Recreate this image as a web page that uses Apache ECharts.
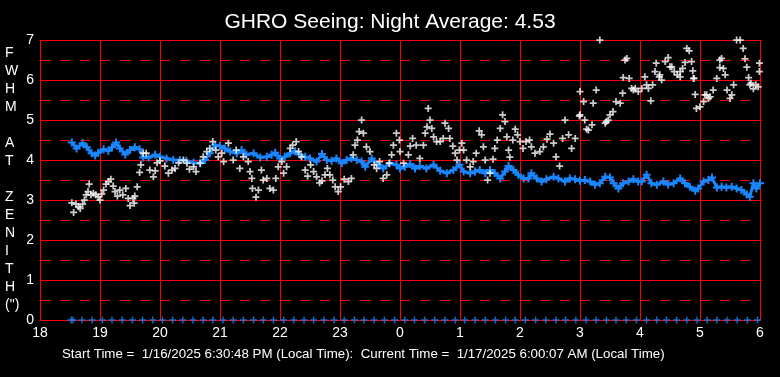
<!DOCTYPE html>
<html>
<head>
<meta charset="utf-8">
<script src="https://cdn.jsdelivr.net/npm/echarts@6/dist/echarts.min.js"></script>
<style>html,body{margin:0;padding:0;background:#000;}#c{width:780px;height:377px;}</style>
</head>
<body>
<div id="c"></div>
<script>
// ---- data (hours since midnight of start day; 24+ = next morning) ----
var titleText = 'GHRO Seeing: Night Average: 4.53';
var footerText = 'Start Time =  1/16/2025 6:30:48 PM (Local Time):  Current Time =  1/17/2025 6:00:07 AM (Local Time)';
var yAxisTitle = ['F','W','H','M','','A','T','','Z','E','N','I','T','H','(")'];
var xTickHours = [18,19,20,21,22,23,24,25,26,27,28,29,30];

// blue series (time, value)
var blueT = [18.53,18.61,18.71,18.78,18.86,18.92,18.97,19.06,19.14,19.20,19.27,19.33,19.42,19.50,19.58,19.66,19.72,19.81,19.92,20.00,20.11,20.22,20.33,20.44,20.56,20.67,20.75,20.83,20.92,21.00,21.08,21.17,21.28,21.36,21.44,21.56,21.67,21.78,21.86,21.92,22.00,22.08,22.17,22.25,22.33,22.42,22.50,22.61,22.70,22.78,22.86,22.94,23.03,23.11,23.19,23.28,23.36,23.42,23.53,23.64,23.72,23.83,23.94,24.00,24.08,24.17,24.25,24.33,24.44,24.56,24.67,24.78,24.89,24.99,25.06,25.17,25.25,25.33,25.42,25.50,25.58,25.67,25.75,25.81,25.89,25.97,26.06,26.14,26.19,26.28,26.36,26.44,26.56,26.64,26.75,26.83,26.92,27.00,27.08,27.17,27.25,27.33,27.42,27.50,27.56,27.64,27.72,27.81,27.89,27.97,28.03,28.11,28.19,28.28,28.39,28.47,28.56,28.67,28.75,28.83,28.92,28.97,29.06,29.14,29.20,29.28,29.36,29.44,29.53,29.61,29.69,29.78,29.83,29.89,29.94,30.00];
var blueV = [4.44,4.29,4.42,4.32,4.17,4.11,4.18,4.27,4.23,4.32,4.44,4.29,4.14,4.25,4.32,4.27,4.06,4.06,4.13,4.08,4.04,4.00,4.00,3.98,3.93,3.92,4.00,4.17,4.37,4.35,4.29,4.21,4.17,4.25,4.13,4.17,4.06,4.08,4.13,4.18,4.04,4.08,4.17,4.22,4.13,4.08,4.04,3.96,4.15,4.00,3.98,4.04,3.92,4.00,4.04,4.00,3.96,3.83,4.04,3.88,3.79,3.92,3.88,3.79,3.83,3.90,3.79,3.85,3.79,3.88,3.73,3.67,3.75,3.88,3.71,3.67,3.71,3.75,3.67,3.75,3.67,3.54,3.71,3.85,3.75,3.63,3.54,3.54,3.67,3.54,3.46,3.52,3.58,3.54,3.46,3.54,3.52,3.48,3.50,3.46,3.38,3.42,3.58,3.56,3.42,3.29,3.42,3.46,3.52,3.46,3.46,3.63,3.42,3.38,3.46,3.39,3.42,3.54,3.42,3.33,3.23,3.29,3.46,3.50,3.56,3.31,3.33,3.31,3.33,3.29,3.25,3.14,3.08,3.42,3.29,3.42];

// white series (time, value)
var whiteT = [18.53,18.56,18.60,18.64,18.67,18.71,18.74,18.77,18.80,18.82,18.85,18.89,18.93,18.97,19.00,19.03,19.06,19.10,19.14,19.18,19.22,19.25,19.29,19.33,19.38,19.43,19.47,19.50,19.55,19.57,19.58,19.62,19.66,19.68,19.72,19.77,19.83,19.89,19.92,19.95,20.00,20.08,20.14,20.20,20.25,20.31,20.39,20.45,20.49,20.56,20.60,20.67,20.72,20.78,20.83,20.88,20.93,20.97,
21.03,21.06,21.14,21.22,21.27,21.33,21.39,21.47,21.50,21.53,21.54,21.60,21.64,21.69,21.72,21.78,21.83,21.89,21.93,21.97,22.03,22.06,22.11,22.17,22.21,22.27,22.31,22.36,22.42,22.46,22.51,22.56,22.61,22.66,22.70,22.75,22.79,22.83,22.88,22.92,22.97,23.01,23.07,23.14,23.19,23.22,23.25,23.29,23.32,23.36,23.39,23.44,23.50,23.57,23.61,23.66,23.72,23.78,23.82,23.86,23.89,23.94,23.99,
24.00,24.06,24.14,24.17,24.21,24.27,24.33,24.39,24.42,24.45,24.47,24.50,24.53,24.56,24.61,24.67,24.72,24.75,24.81,24.83,24.88,24.92,24.95,24.99,25.03,25.06,25.11,25.17,25.22,25.27,25.32,25.36,25.39,25.42,25.46,25.50,25.55,25.58,25.62,25.67,25.71,25.75,25.78,25.81,25.83,25.88,25.92,25.96,26.00,26.05,26.10,26.16,26.19,26.25,26.33,26.39,26.45,26.50,26.56,26.60,26.66,26.71,26.75,26.81,26.86,26.92,26.99,
27.00,27.06,27.00,27.08,27.14,27.20,27.22,27.27,27.33,27.42,27.47,27.55,27.60,27.67,27.71,27.72,27.75,27.78,27.82,27.86,27.92,27.97,28.03,28.08,28.14,28.18,28.21,28.25,28.27,28.32,28.36,28.42,28.47,28.53,28.57,28.62,28.67,28.71,28.75,28.78,28.82,28.88,28.90,28.92,28.94,29.00,29.06,29.11,29.17,29.22,29.28,29.33,29.36,29.42,29.45,29.50,29.56,29.61,29.67,29.72,29.75,29.78,29.81,29.85,29.89,29.93,29.99,29.99,
27.11,27.44,27.50,27.89,28.11,28.33,28.50,28.67,28.86,28.89,29.08,29.14,29.33,29.39,29.53,29.83,29.97];
var whiteV = [2.93,2.69,2.90,2.83,2.79,2.90,3.00,3.13,3.21,3.40,3.13,3.17,3.13,3.08,3.00,3.15,3.25,3.40,3.46,3.52,3.35,3.21,3.10,3.25,3.13,3.29,3.04,2.86,3.04,2.92,3.10,3.33,3.69,3.88,4.17,4.17,3.75,3.58,3.73,3.93,3.98,3.85,3.67,3.75,3.79,3.93,4.00,3.92,3.77,3.83,3.71,3.92,4.08,4.21,4.29,4.46,4.25,4.08,
4.17,3.96,4.42,4.00,4.25,3.79,4.08,3.96,3.71,3.54,3.29,3.07,3.25,3.75,3.50,3.54,3.29,3.25,3.54,3.83,3.96,3.67,3.83,4.29,4.37,4.46,4.21,4.08,3.75,3.60,3.88,3.71,3.58,3.43,3.48,3.63,3.79,3.63,3.50,3.33,3.21,3.33,3.52,3.46,3.54,4.13,4.37,4.50,4.71,5.00,4.67,4.33,4.21,3.88,3.79,3.96,3.54,3.63,3.92,4.13,4.37,4.67,4.50,
4.21,3.92,4.13,4.35,4.54,4.37,4.04,4.37,4.67,4.83,5.29,5.00,4.79,4.58,4.46,4.46,4.54,4.92,4.79,4.54,4.35,4.17,4.00,4.25,4.42,4.25,4.00,3.83,3.96,4.17,4.73,4.63,4.33,4.00,3.50,3.67,4.02,4.29,4.50,4.79,5.13,4.96,4.58,4.25,4.07,4.50,4.77,4.63,4.46,4.29,4.46,4.50,4.33,4.17,4.21,4.33,4.52,4.65,4.42,4.08,3.85,4.54,5.00,4.63,4.29,4.54,5.10,
5.71,5.46,5.13,5.00,4.75,4.88,5.42,5.75,7.00,4.92,5.00,5.21,5.46,5.42,5.67,6.06,6.50,6.54,6.04,5.79,5.79,5.71,5.79,6.08,5.79,5.48,5.88,6.21,6.42,6.08,6.00,6.46,6.56,6.33,6.21,6.13,6.21,6.29,6.44,6.79,6.73,6.23,6.04,5.64,5.29,5.33,5.46,5.63,5.58,5.75,6.04,6.31,6.54,6.13,5.75,5.54,5.88,7.00,7.00,6.79,6.53,6.32,6.06,5.92,5.78,5.88,6.21,6.42,
4.77,4.96,5.13,5.75,5.88,6.13,6.33,6.08,6.46,6.04,5.63,5.54,6.50,6.29,5.63,5.88,5.83];

// baseline markers at zero
var zeroT = [18.52,18.55,18.70,18.87,19.04,19.20,19.37,19.54,19.71,19.88,20.04,20.21,20.38,20.55,20.72,20.88,21.05,21.22,21.39,21.56,21.72,21.89,22.06,22.23,22.40,22.56,22.73,22.90,23.07,23.24,23.40,23.57,23.74,23.91,24.08,24.24,24.41,24.58,24.75,24.92,25.08,25.25,25.42,25.59,25.76,25.92,26.09,26.26,26.43,26.60,26.76,26.93,27.10,27.27,27.44,27.60,27.77,27.94,28.11,28.28,28.44,28.61,28.78,28.95,29.12,29.28,29.45,29.62,29.79,29.96];
var zeroV = [0,0,0,0,0,0,0,0,0,0,0,0,0,0,0,0,0,0,0,0,0,0,0,0,0,0,0,0,0,0,0,0,0,0,0,0,0,0,0,0,0,0,0,0,0,0,0,0,0,0,0,0,0,0,0,0,0,0,0,0,0,0,0,0,0,0,0,0,0,0];

function pairs(t, v) { return t.map(function (x, i) { return [x, v[i]]; }); }

var RED = '#ff0000';
var BLUE = '#1a86ff';
var PLUS_MED = 'path://M3,0H4.5V3H7.5V4.5H4.5V7.5H3V4.5H0V3H3Z';
var PLUS_BOLD = 'path://M3,0H5V3H8V5H5V8H3V5H0V3H3Z';
var FONT = 'Arial, "Liberation Sans", sans-serif';

var chart = echarts.init(document.getElementById('c'), null, {renderer: 'canvas'});
chart.setOption({
  backgroundColor: '#000',
  animation: false,
  title: {
    text: titleText, left: 'center', top: 7,
    textStyle: {color: '#fff', fontSize: 21, fontWeight: 'normal', fontFamily: FONT}
  },
  grid: {left: 40, right: 20, top: 40, bottom: 57},
  xAxis: {
    type: 'value', min: 18, max: 30, interval: 1,
    axisLine: {show: false}, axisTick: {show: false},
    axisLabel: {color: '#fff', fontSize: 14, fontFamily: FONT, margin: 6,
      formatter: function (v) { return String(v % 24); }},
    splitLine: {show: true, lineStyle: {color: RED, width: 1}}
  },
  yAxis: {
    type: 'value', min: 0, max: 7, interval: 1,
    axisLine: {show: false}, axisTick: {show: false},
    axisLabel: {color: '#fff', fontSize: 14, fontFamily: FONT, margin: 6},
    splitLine: {show: true, lineStyle: {color: RED, width: 1}},
    minorTick: {show: false, splitNumber: 2},
    minorSplitLine: {show: true, lineStyle: {color: RED, width: 1, type: [10, 10]}}
  },
  graphic: [
    {type: 'text', left: 5, top: 44, style: {
      text: yAxisTitle.join('\n'), fill: '#fff', font: '14px ' + FONT,
      lineHeight: 18, align: 'center', width: 12}},
    {type: 'text', left: 62, top: 348, style: {
      text: footerText, fill: '#fff', font: '13.3px ' + FONT}}
  ],
  series: [
    {
      type: 'line', data: pairs(blueT, blueV), symbol: PLUS_BOLD, symbolSize: 8,
      showAllSymbol: true, lineStyle: {color: BLUE, width: 3}, itemStyle: {color: BLUE},
      silent: true, z: 2
    },
    {
      type: 'scatter', data: pairs(whiteT, whiteV), symbol: PLUS_BOLD, symbolSize: 7,
      itemStyle: {color: '#fff'}, silent: true, z: 3
    },
    {
      type: 'scatter', data: pairs(zeroT, zeroV), symbol: PLUS_MED, symbolSize: 7,
      itemStyle: {color: BLUE}, silent: true, z: 3
    }
  ]
});
</script>
</body>
</html>
